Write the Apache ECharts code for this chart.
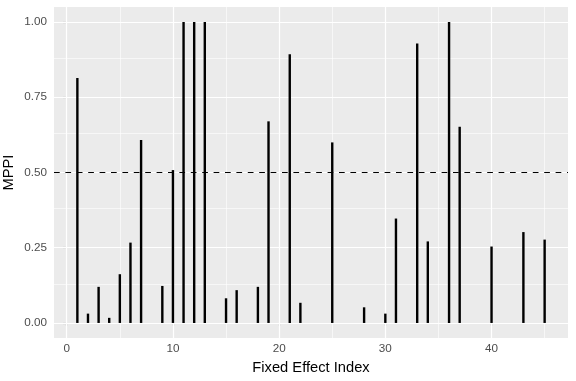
<!DOCTYPE html>
<html>
<head>
<meta charset="utf-8">
<script src="https://cdn.jsdelivr.net/npm/echarts@6/dist/echarts.min.js"></script>
<style>
html, body { margin: 0; padding: 0; background: #fff; }
#chart { width: 576px; height: 381px; }
</style>
</head>
<body>
<div id="chart"></div>
<script>
// fixed effect index and its marginal posterior probability of inclusion
const effectIndex = [1, 2, 3, 4, 5, 6, 7, 9, 10, 11, 12, 13, 15, 16, 18, 19, 21, 22, 25, 28, 30, 31, 33, 34, 36, 37, 40, 43, 45];
const mppi = [0.814, 0.031, 0.12, 0.017, 0.162, 0.267, 0.608, 0.123, 0.508, 1, 1, 1, 0.082, 0.109, 0.12, 0.67, 0.893, 0.067, 0.6, 0.052, 0.031, 0.347, 0.929, 0.271, 1, 0.652, 0.254, 0.302, 0.277];

const xTicks = [0, 10, 20, 30, 40];
const xMinor = [5, 15, 25, 35, 45];
const yTicks = [0, 0.25, 0.5, 0.75, 1];
const yMinor = [0.125, 0.375, 0.625, 0.875];
const threshold = 0.5;

const gridLine = (axis, values, width) => values.map(v => ({
    [axis]: v,
    lineStyle: { color: '#fff', width: width, type: 'solid' }
}));

const chart = echarts.init(document.getElementById('chart'));

chart.setOption({
    animation: false,
    textStyle: { fontFamily: 'Liberation Sans, Arial, sans-serif' },
    grid: {
        left: 54, right: 8, top: 7, bottom: 43,
        outerBoundsMode: 'none',
        containLabel: false,
        show: true, backgroundColor: '#ebebeb', borderWidth: 0
    },
    xAxis: {
        type: 'value',
        min: -1.2,
        max: 47.2,
        splitLine: { show: false },
        axisLine: { show: false },
        axisTick: { show: true, length: 3.7, customValues: xTicks, lineStyle: { color: '#333', width: 1.07 } },
        axisLabel: { customValues: xTicks, color: '#4d4d4d', fontSize: 11.7, margin: 5 },
        name: 'Fixed Effect Index',
        nameLocation: 'middle',
        nameMoveOverlap: false,
        nameGap: 22,
        nameTextStyle: { color: '#000', fontSize: 14.7 }
    },
    yAxis: {
        type: 'value',
        min: -0.05,
        max: 1.05,
        splitLine: { show: false },
        axisLine: { show: false },
        axisTick: { show: true, length: 3.7, customValues: yTicks, lineStyle: { color: '#333', width: 1.07 } },
        axisLabel: {
            customValues: yTicks, color: '#4d4d4d', fontSize: 11.7, margin: 7,
            formatter: v => v.toFixed(2)
        },
        name: 'MPPI',
        nameLocation: 'middle',
        nameMoveOverlap: false,
        nameGap: 38,
        nameTextStyle: { color: '#000', fontSize: 14.7 }
    },
    series: [
        {
            // panel grid lines
            type: 'line',
            data: [],
            silent: true,
            z: 1,
            markLine: {
                silent: true,
                z: 1,
                symbol: 'none',
                label: { show: false },
                data: [
                    ...gridLine('xAxis', xMinor, 0.6),
                    ...gridLine('yAxis', yMinor, 0.6),
                    ...gridLine('xAxis', xTicks, 1.2),
                    ...gridLine('yAxis', yTicks, 1.2)
                ]
            }
        },
        {
            type: 'bar',
            barWidth: 2.4,
            z: 3,
            itemStyle: { color: '#000' },
            data: effectIndex.map((x, i) => [x, mppi[i]]),
            markLine: {
                silent: true,
                z: 5,
                symbol: 'none',
                label: { show: false },
                lineStyle: { color: '#000', width: 1.2, type: [5.7, 5.7] },
                data: [{ yAxis: threshold }]
            }
        }
    ]
});
</script>
</body>
</html>
